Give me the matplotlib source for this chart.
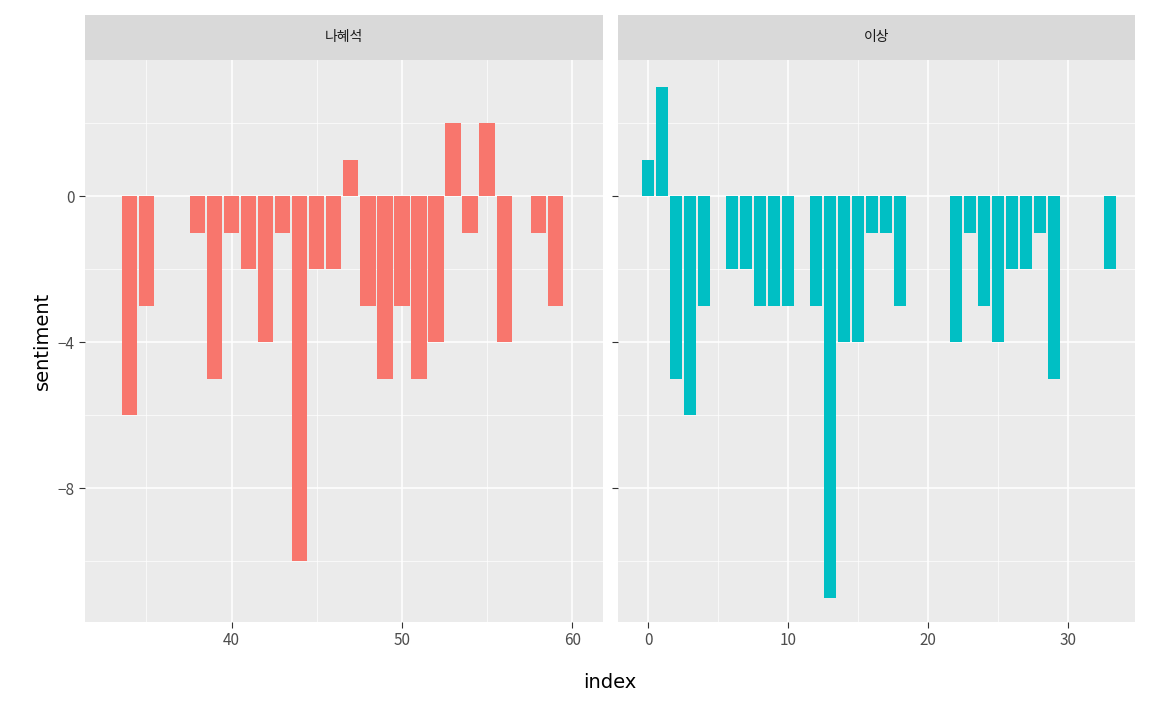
import matplotlib
matplotlib.use("Agg")
import matplotlib.pyplot as plt

plt.rcParams['font.family'] = ['Noto Sans CJK KR', 'DejaVu Sans']

left_title = "나혜석"
left_x = [34,35,38,39,40,41,42,43,44,45,46,47,48,49,50,51,52,53,54,55,56,58,59]
left_y = [-6,-3,-1,-5,-1,-2,-4,-1,-10,-2,-2,1,-3,-5,-3,-5,-4,2,-1,2,-4,-1,-3]
right_title = "이상"
right_x = [0,1,2,3,4,6,7,8,9,10,12,13,14,15,16,17,18,22,23,24,25,26,27,28,29,33]
right_y = [1,3,-5,-6,-3,-2,-2,-3,-3,-3,-3,-11,-4,-4,-1,-1,-3,-4,-1,-3,-4,-2,-2,-1,-5,-2]

W, H = 1152, 711
fig = plt.figure(figsize=(W/100, H/100), dpi=100)
panels = [
    (85, 603, left_x, left_y, left_title, "#F8766D", (31.4, 61.8), [40,50,60], [35,45,55]),
    (618, 1135, right_x, right_y, right_title, "#00BFC4", (-2.15, 34.8), [0,10,20,30], [5,15,25]),
]
top, bot, strip_top = 60, 622, 15
for i, (x0, x1, xs, ys, title, col, xl, maj, mnr) in enumerate(panels):
    ax = fig.add_axes([x0/W, 1-bot/H, (x1-x0)/W, (bot-top)/H])
    ax.set_facecolor("#EBEBEB")
    ax.bar(xs, ys, width=0.9, color=col, zorder=3)
    ax.set_xlim(*xl)
    ax.set_ylim(-11.67, 3.73)
    ax.set_xticks(maj)
    ax.set_xticks(mnr, minor=True)
    ax.set_yticks([0,-4,-8])
    ax.set_yticks([2,-2,-6,-10], minor=True)
    ax.grid(True, which='major', color='white', lw=1.1, zorder=0)
    ax.grid(True, which='minor', color='white', lw=0.5, zorder=0)
    for s in ax.spines.values():
        s.set_visible(False)
    ax.tick_params(which='both', length=0)
    ax.tick_params(which='major', axis='both', length=4, color='#333333', labelsize=11, labelcolor='#4D4D4D')
    ax.tick_params(which='minor', length=0)
    if i == 0:
        ax.set_ylabel("sentiment", fontsize=14, family=['DejaVu Sans'])
    else:
        ax.tick_params(axis='y', labelleft=False)
    sax = fig.add_axes([x0/W, 1-top/H, (x1-x0)/W, (top-strip_top)/H])
    sax.set_facecolor("#D9D9D9")
    sax.set_xticks([]); sax.set_yticks([])
    for s in sax.spines.values():
        s.set_visible(False)
    sax.text(0.5, 0.5, title, ha='center', va='center', fontsize=10, color='#1A1A1A', transform=sax.transAxes)
fig.text(610/W, 1-682/H, "index", ha='center', va='center', fontsize=14, family=['DejaVu Sans'])
fig.savefig("out.png", dpi=100, facecolor='white')
